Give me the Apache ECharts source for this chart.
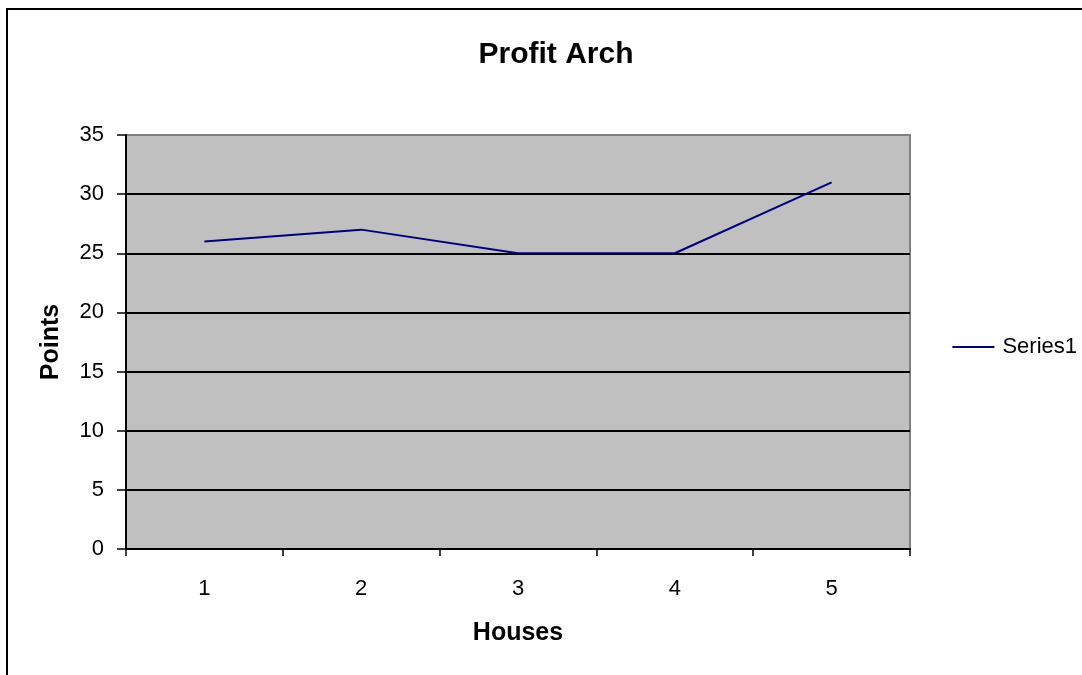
<!DOCTYPE html>
<html><head><meta charset="utf-8">
<script src="https://cdn.jsdelivr.net/npm/echarts@6/dist/echarts.min.js"></script>
<style>html,body{margin:0;padding:0;background:#fff}#c{width:1082px;height:675px}</style>
</head><body><div id="c"></div>
<script>
const categories = ['1','2','3','4','5'];
const series1 = [26, 27, 25, 25, 31];
const seriesName = 'Series1';
const titleText = 'Profit Arch';
const xName = 'Houses';
const yName = 'Points';

const chart = echarts.init(document.getElementById('c'));
const F = 'Liberation Sans, Arial, sans-serif';
chart.setOption({
  animation: false,
  backgroundColor: '#fff',
  title: { text: titleText, left: 551, top: 35, textAlign: 'center',
    textStyle: { fontFamily: F, fontSize: 30, fontWeight: 'bold', color: '#000' } },
  legend: { right: 0, top: 331, itemWidth: 42, itemHeight: 2, itemGap: 4,
    data: [{ name: seriesName, icon: 'rect' }],
    textStyle: { fontFamily: F, fontSize: 22, color: '#000', padding: [0,0,0,3] } },
  grid: { left: 126, top: 135, width: 784, height: 414, show: true,
    backgroundColor: '#C0C0C0', borderColor: '#808080', borderWidth: 2 },
  graphic: [{ type: 'rect', shape: { x: 7, y: 9, width: 1200, height: 800 },
    style: { fill: 'none', stroke: '#000', lineWidth: 2 }, silent: true, z: 100 }],
  xAxis: { type: 'category', data: categories, boundaryGap: true,
    name: xName, nameLocation: 'middle', nameGap: 72,
    nameTextStyle: { fontFamily: F, fontSize: 25, fontWeight: 'bold', color: '#000' },
    axisLine: { lineStyle: { color: '#000', width: 2 } },
    axisTick: { show: true, length: 7, lineStyle: { color: '#000', width: 1.5 } },
    axisLabel: { fontFamily: F, fontSize: 22, color: '#000', margin: 29 },
    splitLine: { show: false } },
  yAxis: { type: 'value', min: 0, max: 35, interval: 5,
    name: yName, nameLocation: 'middle', nameGap: 62, nameRotate: 90,
    nameTextStyle: { fontFamily: F, fontSize: 25, fontWeight: 'bold', color: '#000' },
    axisLine: { show: true, lineStyle: { color: '#000', width: 2 } },
    axisTick: { show: true, length: 9, lineStyle: { color: '#000', width: 1.5 } },
    axisLabel: { fontFamily: F, fontSize: 22, color: '#000', margin: 22 },
    splitLine: { show: true, lineStyle: {
      color: ['#000','#000','#000','#000','#000','#000','#000','#808080'], width: 2 } } },
  series: [{ name: seriesName, type: 'line', data: series1, showSymbol: false,
    symbol: 'none', lineStyle: { color: '#000080', width: 2 }, itemStyle: { color: '#000080' } }]
});
</script></body></html>
